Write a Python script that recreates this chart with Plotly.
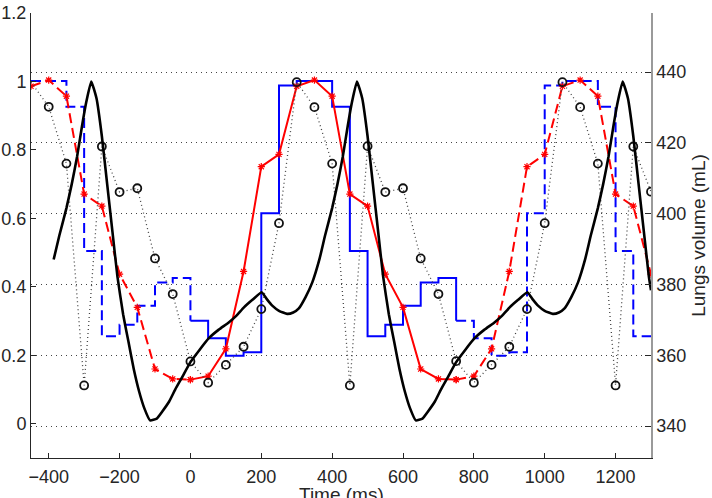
import plotly.graph_objects as go

# ---------------- data ----------------
# common 50 ms grid for the sampled series
t50 = [-450, -400, -350, -300, -250, -200, -150, -100, -50, 0, 50, 100, 150, 200, 250,
       300, 350, 400, 450, 500, 550, 600, 650, 700, 750, 800, 850, 900, 950, 1000,
       1050, 1100, 1150, 1200, 1250, 1300]

# black circles (dotted)
circ_v = [0.998, 0.926, 0.760, 0.112, 0.810, 0.677, 0.688, 0.483, 0.379, 0.182, 0.120,
          0.172, 0.225, 0.335, 0.586, 0.998, 0.925, 0.760, 0.112, 0.811, 0.677, 0.688,
          0.483, 0.379, 0.183, 0.120, 0.172, 0.225, 0.335, 0.586, 0.998, 0.925, 0.760,
          0.112, 0.810, 0.678]

# blue staircase (value held over the 50 ms bin starting at t)
blue_v = [1.001, 1.001, 0.926, 0.505, 0.256, 0.289, 0.345, 0.413, 0.426, 0.301, 0.250,
          0.199, 0.209, 0.615, 0.988, 1.001, 1.001, 0.926, 0.505, 0.256, 0.289, 0.345,
          0.413, 0.426, 0.301, 0.250, 0.199, 0.209, 0.615, 0.988, 1.001, 1.001, 0.926,
          0.505, 0.256, 0.256]

# red line with asterisks
red_v = [0.986, 1.004, 0.957, 0.671, 0.636, 0.437, 0.340, 0.160, 0.131, 0.129, 0.139,
         0.219, 0.445, 0.751, 0.787, 0.986, 1.004, 0.957, 0.671, 0.636, 0.437, 0.340,
         0.160, 0.131, 0.129, 0.139, 0.219, 0.445, 0.751, 0.787, 0.986, 1.004, 0.957,
         0.671, 0.636, 0.437]

# black thick curve
black_t = [-386, -370, -350, -335, -320, -306, -294, -280, -265, -250, -235, -220, -206,
           -190, -175, -160, -145, -130, -114, -95, -80, -60, -43, -24, 0, 25, 52, 80,
           108, 130, 151, 175, 201, 215, 231, 250, 273, 290, 306, 325, 344,
           364, 380, 400, 415, 430, 444, 456, 470, 485, 500, 515, 530, 544, 560, 575,
           590, 605, 620, 636, 655, 670, 690, 707, 726, 750, 775, 802, 830, 858, 880,
           901, 925, 951, 965, 981, 1000, 1023, 1040, 1056, 1075, 1094,
           1114, 1130, 1150, 1165, 1180, 1194, 1206, 1220, 1235, 1250, 1265, 1280, 1294,
           1300]
black_v = [0.48, 0.55, 0.63, 0.70, 0.78, 0.87, 0.94, 1.00, 0.95, 0.84, 0.70, 0.56, 0.43,
           0.32, 0.24, 0.16, 0.095, 0.045, 0.01, 0.015, 0.035, 0.065, 0.10, 0.135, 0.18,
           0.215, 0.25, 0.275, 0.296, 0.316, 0.34, 0.362, 0.384, 0.365, 0.345, 0.33,
           0.321, 0.325, 0.337, 0.37, 0.413,
           0.48, 0.55, 0.63, 0.70, 0.78, 0.87, 0.94, 1.00, 0.95, 0.84, 0.70, 0.56, 0.43,
           0.32, 0.24, 0.16, 0.095, 0.045, 0.01, 0.015, 0.035, 0.065, 0.10, 0.135, 0.18,
           0.215, 0.25, 0.275, 0.296, 0.316, 0.34, 0.362, 0.384, 0.365, 0.345, 0.33,
           0.321, 0.325, 0.337, 0.37, 0.413,
           0.48, 0.55, 0.63, 0.70, 0.78, 0.87, 0.94, 1.00, 0.95, 0.84, 0.70, 0.56, 0.43,
           0.39]

x_ticks = [-400, -200, 0, 200, 400, 600, 800, 1000, 1200]
y_ticks = [0, 0.2, 0.4, 0.6, 0.8, 1, 1.2]
y2_ticks = [340, 360, 380, 400, 420, 440]

x_title = "Time (ms)"
y2_title = "Lungs volume (mL)"

SOLID_START, SOLID_END = 0, 750

# ---------------- helpers ----------------
def seg(ts, vs, lo, hi):
    pts = [(t, v) for t, v in zip(ts, vs) if lo <= t <= hi]
    return [p[0] for p in pts], [p[1] for p in pts]

FONT = "Liberation Sans, Arial, Helvetica, sans-serif"
DASH = "10px,5px"
TXT = "#262626"

fig = go.Figure()

# blue staircase
for lo, hi, dash in [(-450, SOLID_START, DASH), (SOLID_END, 1300, DASH),
                     (SOLID_START, SOLID_END, "solid")]:
    xs, ys = seg(t50, blue_v, lo, hi)
    fig.add_trace(go.Scatter(x=xs, y=ys, mode="lines", line_shape="hv",
                             line=dict(color="#0000ff", width=2, dash=dash),
                             showlegend=False, hoverinfo="skip"))

# red line with asterisk markers
for lo, hi, dash in [(-450, SOLID_START, DASH), (SOLID_END, 1300, DASH),
                     (SOLID_START, SOLID_END, "solid")]:
    xs, ys = seg(t50, red_v, lo, hi)
    fig.add_trace(go.Scatter(x=xs, y=ys, mode="lines+markers",
                             line=dict(color="#ff0000", width=2, dash=dash),
                             marker=dict(symbol="asterisk-open", size=6, color="#ff0000",
                                         line=dict(color="#ff0000", width=1.2)),
                             showlegend=False, hoverinfo="skip"))

# dotted black line with open circles
fig.add_trace(go.Scatter(x=t50, y=circ_v, mode="lines",
                         line=dict(color="#444444", width=1.3, dash="1px,3px"),
                         showlegend=False, hoverinfo="skip"))
fig.add_trace(go.Scatter(x=t50[1:], y=circ_v[1:], mode="markers",
                         marker=dict(symbol="circle-open", size=8, color="#111111",
                                     line=dict(color="#111111", width=1.8)),
                         showlegend=False, hoverinfo="skip"))

# thick black curve
fig.add_trace(go.Scatter(x=black_t, y=black_v, mode="lines",
                         line=dict(color="#000000", width=2.6, shape="spline", smoothing=0.4),
                         showlegend=False, hoverinfo="skip"))

# anchor for the right axis
fig.add_trace(go.Scatter(x=[None], y=[None], yaxis="y2", showlegend=False,
                         hoverinfo="skip"))

tickfont = dict(family=FONT, size=18, color=TXT)
titlefont = dict(family=FONT, size=19, color=TXT)

fig.update_layout(
    width=712, height=498,
    margin=dict(l=31, r=61, t=13, b=40, autoexpand=False),
    paper_bgcolor="white", plot_bgcolor="white",
    font=dict(family=FONT, size=18, color=TXT),
    xaxis=dict(range=[-450, 1300], tickvals=x_ticks, ticks="inside", ticklen=5,
               tickcolor=TXT, showline=True, linecolor=TXT, linewidth=1,
               showgrid=False, zeroline=False, tickfont=tickfont, automargin=False,
               ticklabelstandoff=2),
    yaxis=dict(range=[-0.1, 1.2], tickvals=y_ticks, ticks="inside", ticklen=5,
               tickcolor=TXT, showline=True, linecolor=TXT, linewidth=1,
               showgrid=False, zeroline=False, tickfont=tickfont, automargin=False),
    yaxis2=dict(overlaying="y", side="right", range=[331, 456.7], tickvals=y2_ticks,
                ticks="inside", ticklen=6, tickcolor=TXT, showline=True,
                linecolor="#9a9a9a", linewidth=1.5, showgrid=True, gridcolor="#444444",
                griddash="1px,4px", gridwidth=1, zeroline=False, tickfont=tickfont,
                automargin=False,
                title=dict(text=y2_title, font=titlefont, standoff=6)),
    annotations=[dict(text=x_title, xref="paper", yref="paper", x=0.5, y=-0.082,
                      xanchor="center", yanchor="middle", showarrow=False,
                      font=titlefont)],
)

fig.write_html("out.html")
